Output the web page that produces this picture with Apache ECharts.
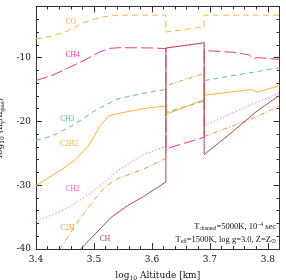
<!DOCTYPE html>
<html><head><meta charset="utf-8">
<script src="https://cdn.jsdelivr.net/npm/echarts@6/dist/echarts.min.js"></script>
<style>html,body{margin:0;padding:0;background:#fff}#c{width:286px;height:280px}</style>
</head><body><div id="c"></div>
<script>
// axis ranges / ticks
const xRange = [3.4, 3.82];
const yRange = [-40, -2];
const xInterval = 0.1;
const yInterval = 10;

// series values: [log10 altitude, log10 abundance]
const CO = [[3.40,-7.1],[3.43,-6.6],[3.454,-5.8],[3.483,-4.5],[3.51,-3.7],[3.535,-3.4],[3.56,-3.35],[3.60,-3.35],[3.624,-3.35],[3.624,-6.0],[3.69,-5.2],[3.69,-3.35],[3.82,-3.35]];
const CH4 = [[3.40,-13.6],[3.43,-12.7],[3.454,-11.7],[3.488,-10.2],[3.51,-9.1],[3.528,-8.55],[3.546,-8.45],[3.60,-8.5],[3.624,-8.6],[3.624,-24.3],[3.69,-22.5],[3.69,-8.9],[3.745,-9.2],[3.768,-9.6],[3.775,-10.2],[3.782,-10.0],[3.82,-10.3]];
const CH3 = [[3.40,-23.0],[3.43,-22.2],[3.466,-20.5],[3.50,-18.4],[3.54,-16.5],[3.585,-15.6],[3.624,-15.0],[3.624,-18.6],[3.69,-16.8],[3.69,-13.6],[3.82,-11.6]];
const C2H2 = [[3.40,-30.1],[3.424,-28.7],[3.45,-27.2],[3.47,-25.8],[3.49,-23.9],[3.51,-20.8],[3.525,-19.2],[3.54,-18.8],[3.585,-18.0],[3.624,-17.6],[3.624,-18.9],[3.69,-16.6],[3.69,-15.9],[3.772,-15.0],[3.782,-15.4],[3.82,-14.4]];
const CH2 = [[3.40,-35.6],[3.43,-34.6],[3.46,-33.3],[3.50,-30.9],[3.54,-27.8],[3.585,-25.2],[3.624,-23.9],[3.624,-8.5],[3.69,-7.7],[3.69,-20.7],[3.75,-18.2],[3.82,-15.5]];
const C2H = [[3.4415,-40],[3.47,-36.0],[3.50,-32.3],[3.52,-30.2],[3.54,-29.0],[3.585,-27.5],[3.624,-25.8],[3.624,-14.4],[3.69,-12.5],[3.69,-22.4],[3.78,-19.3],[3.82,-17.6]];
const CH = [[3.477,-40],[3.512,-36.7],[3.53,-35.0],[3.56,-33.1],[3.585,-31.8],[3.624,-29.5],[3.624,-8.5],[3.69,-7.7],[3.69,-25.2],[3.738,-21.7],[3.781,-18.4],[3.82,-15.9]];

// species names and label anchors (data coords)
const speciesNames = ['CO','CH4','CH3','C2H2','CH2','C2H','CH'];
const labelAnchors = [[3.460,-4.5],[3.463,-9.6],[3.454,-19.6],[3.457,-23.6],[3.463,-30.6],[3.454,-36.7],[3.519,-38.5]];

const seriesData = [CO, CH4, CH3, C2H2, CH2, C2H, CH];
const colors = ['#FFB340','#F0349A','#5CC48A','#FFB030','#FF5CC8','#E4A040','#B5484F'];
const dashes = [[6,4],[12,4],[5,4],'solid',[1.2,2.3],[5,2,1,2],'solid'];

const FONT = 'DejaVu Serif';
const chart = echarts.init(document.getElementById('c'), null, {renderer:'canvas'});

function axisCommon(showLabel, pos){
  return {
    axisLine:{show:true, onZero:false, lineStyle:{color:'#333', width:1}},
    axisTick:{show:true, inside:true, length:6, lineStyle:{color:'#333', width:1}},
    minorTick:{show:true, splitNumber:5, length:3, lineStyle:{color:'#333', width:1}},
    splitLine:{show:false},
    axisLabel:{show:showLabel, showMaxLabel:false, fontFamily:FONT, fontSize:9, color:'#111', margin:5},
    position:pos
  };
}

const option = {
  animation:false,
  backgroundColor:'#fff',
  grid:{left:36, right:6.5, top:6.5, bottom:31, containLabel:false, outerBoundsMode:'none'},
  xAxis:[
    Object.assign({type:'value', min:xRange[0], max:xRange[1], interval:xInterval,
      name:'{a|log}{s|10}{a| Altitude [km]}', nameLocation:'middle', nameGap:21,
      nameTextStyle:{rich:{a:{fontFamily:FONT,fontSize:9,color:'#111'}, s:{fontFamily:FONT,fontSize:6,color:'#111',padding:[5,0,0,0]}}}
    }, axisCommon(true,'bottom'), {axisLabel:{show:true, showMaxLabel:false, fontFamily:FONT, fontSize:9, color:'#111', margin:6, formatter:v=>v.toFixed(1)}}),
    Object.assign({type:'value', min:xRange[0], max:xRange[1], interval:xInterval}, axisCommon(false,'top'))
  ],
  yAxis:[
    Object.assign({type:'value', min:yRange[0], max:yRange[1], interval:yInterval,
      name:'{a|log}{s|10}{a| (n}{s|y}{a|/n}{s|gas}{a|)}', nameLocation:'middle', nameGap:25, nameRotate:90,
      nameTextStyle:{rich:{a:{fontFamily:FONT,fontSize:9,color:'#111'}, s:{fontFamily:FONT,fontSize:6,color:'#111',padding:[5,0,0,0]}}}
    }, axisCommon(true,'left')),
    Object.assign({type:'value', min:yRange[0], max:yRange[1], interval:yInterval}, axisCommon(false,'right'))
  ],
  series: seriesData.map((d,i)=>({
    name:speciesNames[i], type:'line', data:d, showSymbol:false, symbol:'none',
    xAxisIndex:0, yAxisIndex:0, clip:true, z:2+i,
    lineStyle:{color:colors[i], width:1, type:dashes[i]}
  }))
};
chart.setOption(option);

const labelGraphics = speciesNames.map((n,i)=>{
  const p = chart.convertToPixel({xAxisIndex:0, yAxisIndex:0}, labelAnchors[i]);
  return {type:'text', x:p[0], y:p[1], style:{text:n, fill:colors[i], font:'7.5px "Liberation Serif"', align:'center', verticalAlign:'middle'}};
});
const ann = [
  {type:'text', x:276, y:227, style:{text:'{a|T}{s|channel}{a|=5000K, 10}{p|−4}{a| sec}', align:'right', verticalAlign:'middle',
    rich:{a:{font:'8.5px "Liberation Serif"', fill:'#111'}, s:{font:'5.5px "Liberation Serif"', fill:'#111', padding:[4,0,0,0]}, p:{font:'5.5px "Liberation Serif"', fill:'#111', padding:[0,0,4,0]}}}},
  {type:'text', x:276, y:240, style:{text:'{a|T}{s|eff}{a|=1500K, log g=3.0, Z=Z}{s|⊙}', align:'right', verticalAlign:'middle',
    rich:{a:{font:'8.5px "Liberation Serif"', fill:'#111'}, s:{font:'5.5px "Liberation Serif"', fill:'#111', padding:[4,0,0,0]}}}}
];
chart.setOption({graphic: labelGraphics.concat(ann)});
</script></body></html>
